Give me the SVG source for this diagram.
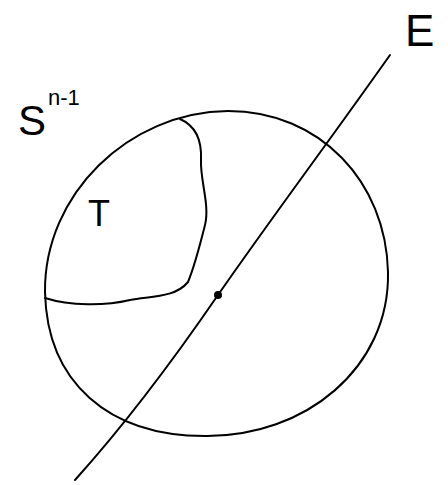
<svg xmlns="http://www.w3.org/2000/svg" width="448" height="485" viewBox="0 0 448 485">
<style>
.ink{fill:none;stroke:#000;stroke-width:2;stroke-linecap:round;stroke-linejoin:round}
.lbl{font-family:"Liberation Sans",Arial,sans-serif;fill:#000}
</style>
<rect width="448" height="485" fill="#fff"/>
<g id="sphere">
<path class="ink" d="M45,292 C44,195 128,112 228,111 C320,111 386,182 388,272 C390,368 305,437 205,436 C108,436 47,382 45,292 Z"/>
<text class="lbl" x="18" y="135" font-size="42">S<tspan font-size="22" dx="2" dy="-30">n-1</tspan></text>
</g>
<g id="region-T">
<path class="ink" d="M180,119 C196,126 202,140 201,160 C200,180 210,205 205,225 C200,245 195,265 188,282 C175,298 150,296 130,300 C105,306 70,306 45,298"/>
<text class="lbl" x="88" y="226" font-size="36">T</text>
</g>
<g id="connectors">
<path class="ink" d="M75,480 C120,430 170,365 218,295 C270,220 330,140 390,55"/>
<circle cx="218" cy="295" r="4" fill="#000"/>
</g>
<g id="label-E">
<text class="lbl" x="405" y="46" font-size="44">E</text>
</g>
</svg>
